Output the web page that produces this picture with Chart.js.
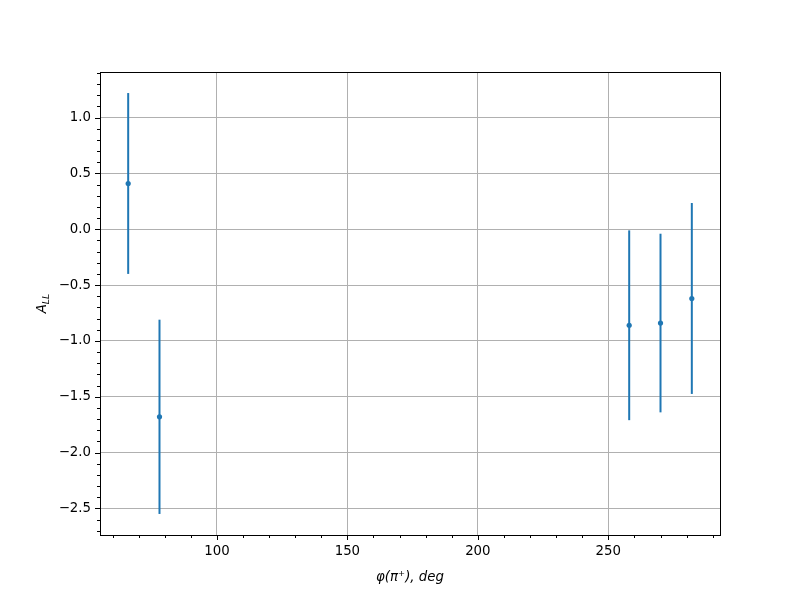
<!DOCTYPE html>
<html>
<head>
<meta charset="utf-8">
<script src="https://cdn.jsdelivr.net/npm/chart.js@4"></script>
<style>
  html, body { margin: 0; padding: 0; background: #fff; }
  #wrap { width: 800px; height: 600px; }
</style>
</head>
<body>
<div id="wrap"><canvas id="chart" width="800" height="600"></canvas></div>
<script>
// values
const phiValues = [66, 78, 258, 270, 282];
const allValues = [0.41, -1.68, -0.86, -0.84, -0.62];
const allErrors = [0.81, 0.87, 0.85, 0.80, 0.855];
const xTicks = [100, 150, 200, 250];
const yTicks = [-2.5, -2.0, -1.5, -1.0, -0.5, 0.0, 0.5, 1.0];

const blue = '#1f77b4';
const font = { family: 'DejaVu Sans', size: 13.33 };

const points = phiValues.map((x, i) => ({ x: x, y: allValues[i], err: allErrors[i] }));

function fmtY(v) {
    const s = Number(v).toFixed(1);
    return s.replace('-', '\u2212');
}

// error bars, frame, minor ticks and the y label
const extras = {
    id: 'extras',
    beforeDatasetsDraw(chart) {
        const ctx = chart.ctx;
        const xs = chart.scales.x, ys = chart.scales.y;
        ctx.save();
        ctx.strokeStyle = blue;
        ctx.lineWidth = 2;
        points.forEach(p => {
            const px = xs.getPixelForValue(p.x);
            ctx.beginPath();
            ctx.moveTo(px, ys.getPixelForValue(p.y - p.err));
            ctx.lineTo(px, ys.getPixelForValue(p.y + p.err));
            ctx.stroke();
        });
        ctx.restore();
    },
    afterDraw(chart) {
        const ctx = chart.ctx;
        const a = chart.chartArea;
        const xs = chart.scales.x, ys = chart.scales.y;
        ctx.save();
        ctx.strokeStyle = '#000';
        ctx.lineWidth = 1;
        ctx.strokeRect(Math.round(a.left) + 0.5, Math.round(a.top) + 0.5,
            Math.round(a.right - a.left), Math.round(a.bottom - a.top));

        // major + minor ticks
        ctx.beginPath();
        for (let v = 60; v <= 290; v += 10) {
            const px = Math.round(xs.getPixelForValue(v)) + 0.5;
            const len = v % 50 === 0 ? 5 : 3;
            ctx.moveTo(px, a.bottom);
            ctx.lineTo(px, a.bottom + len);
        }
        for (let k = -27; k <= 14; k++) {
            const v = k / 10;
            const py = Math.round(ys.getPixelForValue(v)) + 0.5;
            const len = k % 5 === 0 ? 5 : 3;
            ctx.moveTo(a.left, py);
            ctx.lineTo(a.left - len, py);
        }
        ctx.stroke();

        // y label A_LL
        ctx.fillStyle = '#000';
        ctx.translate(46, (a.top + a.bottom) / 2);
        ctx.rotate(-Math.PI / 2);
        ctx.textBaseline = 'alphabetic';
        ctx.font = 'italic 13.33px "DejaVu Sans"';
        const wA = ctx.measureText('A').width;
        ctx.font = 'italic 9.5px "DejaVu Sans"';
        const wL = ctx.measureText('LL').width;
        const x0 = -(wA + wL) / 2;
        ctx.font = 'italic 13.33px "DejaVu Sans"';
        ctx.fillText('A', x0, 0);
        ctx.font = 'italic 9.5px "DejaVu Sans"';
        ctx.fillText('LL', x0 + wA, 3);
        ctx.restore();
    }
};

new Chart(document.getElementById('chart'), {
    type: 'scatter',
    data: {
        datasets: [{
            data: points,
            backgroundColor: blue,
            borderColor: blue,
            pointRadius: 2.6,
            pointHoverRadius: 2.6,
            borderWidth: 0
        }]
    },
    options: {
        responsive: false,
        animation: false,
        events: [],
        layout: { padding: { left: 0, right: 80, top: 72, bottom: 14 } },
        plugins: { legend: { display: false }, tooltip: { enabled: false } },
        scales: {
            x: {
                type: 'linear',
                min: 55.2,
                max: 292.8,
                afterBuildTicks: s => { s.ticks = xTicks.map(v => ({ value: v })); },
                afterFit: s => { s.height = 51; },
                grid: { color: '#b0b0b0', lineWidth: 1, drawTicks: false },
                border: { display: false },
                ticks: { color: '#000', font: font, padding: 9, maxRotation: 0, callback: v => String(v) },
                title: {
                    display: true,
                    text: '\u03C6(\u03C0\u207A), deg',
                    color: '#000',
                    font: { family: 'DejaVu Sans', size: 13.33, style: 'italic' },
                    padding: { top: 4, bottom: 0 }
                }
            },
            y: {
                type: 'linear',
                min: -2.7385,
                max: 1.4085,
                afterBuildTicks: s => { s.ticks = yTicks.map(v => ({ value: v })); },
                afterFit: s => { s.width = 100; },
                grid: { color: '#b0b0b0', lineWidth: 1, drawTicks: false },
                border: { display: false },
                ticks: { color: '#000', font: font, padding: 9, callback: v => fmtY(v) }
            }
        }
    },
    plugins: [extras]
});
</script>
</body>
</html>
